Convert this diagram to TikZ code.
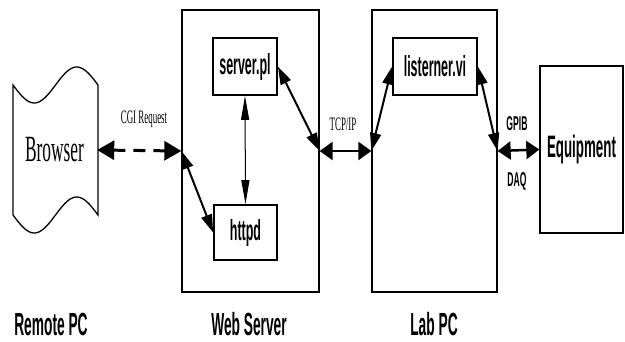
\documentclass[tikz,border=0pt]{standalone}
\usepackage{fontspec}
\usetikzlibrary{arrows.meta}
\newfontfamily\narrowsans[FakeStretch=0.43]{Liberation Sans}
\newfontfamily\narrowserif[FakeStretch=0.47]{Liberation Serif}

\begin{document}
\begin{tikzpicture}[x=1pt,y=-1pt,
    machine/.style={draw, line width=1.3pt, inner sep=0pt},
    prog/.style={draw, line width=1.7pt, inner sep=0pt, minimum height=57pt,
      font=\narrowsans\bfseries\fontsize{29}{29}\selectfont},
    caption/.style={inner sep=0pt, font=\narrowsans\bfseries\fontsize{32}{32}\selectfont},
    small/.style={font=\narrowserif\fontsize{19}{19}\selectfont},
    bus/.style={font=\narrowsans\bfseries\fontsize{20}{20}\selectfont},
    link/.style={line width=2.5pt,
      {Triangle[length=13pt,width=18pt]}-{Triangle[length=13pt,width=18pt]}},
    slant/.style={line width=2pt,
      {Triangle[length=18pt,width=11pt]}-{Triangle[length=18pt,width=11pt]}}]
  \useasboundingbox (0,0) rectangle (625,341);

  % the browser sheet
  \draw[line width=1.3pt] plot[domain=13:98, samples=50] (\x, {85+18*sin(4.2353*(\x-13))})
    -- plot[domain=98:13, samples=50] (\x, {215+18*sin(4.2353*(\x-13))}) -- cycle;
  \node[inner sep=0pt, minimum width=85pt, minimum height=130pt,
    font=\narrowserif\fontsize{37}{37}\selectfont] (browser) at (54.5,150) {Browser};

  \node[machine, minimum width=137pt, minimum height=282pt] (web) at (250.5,151) {};
  \node[machine, minimum width=125pt, minimum height=282pt] (lab) at (434.5,151) {};
  \node[machine, minimum width=83pt, minimum height=167pt,
    font=\narrowsans\bfseries\fontsize{31}{31}\selectfont] (equip) at (581.5,149.5) {Equipment};

  \node[prog, minimum width=64pt] (server) at (245,66.5) {server.pl};
  \node[prog, minimum width=63pt, minimum height=55pt] (httpd) at (245.5,232.5) {httpd};
  \node[prog, minimum width=84pt] (listener) at (435,66.5) {listerner.vi};

  \draw[line width=3pt, dash pattern=on 12pt off 8pt,
    {Triangle[length=17pt,width=19pt]}-{Triangle[length=17pt,width=19pt]}]
    (browser.east) -- (web.west);
  \draw[slant] (web.west) -- (httpd.west);
  \draw[line width=1pt, {Triangle[length=24pt,width=8pt]}-{Triangle[length=24pt,width=8pt]}]
    (server.south) -- (httpd.north);
  \draw[slant] (server.east) -- (web.east);
  \draw[link] (web.east) -- (lab.west);
  \draw[slant] (lab.west) -- (listener.west);
  \draw[slant] (listener.east) -- (lab.east);
  \draw[link] (lab.east) -- (equip.west);

  \node[small] (cgi) at (144,119) {CGI Request};
  \node[small] (tcp) at (343,124) {TCP/IP};
  \node[bus] (gpib) at (517,124) {GPIB};
  \node[bus] (daq) at (517,181) {DAQ};

  \node[caption] (remote) at (51,324) {Remote PC};
  \node[caption] (webname) at (249,324) {Web Server};
  \node[caption] (labname) at (434,324) {Lab PC};
\end{tikzpicture}
\end{document}
